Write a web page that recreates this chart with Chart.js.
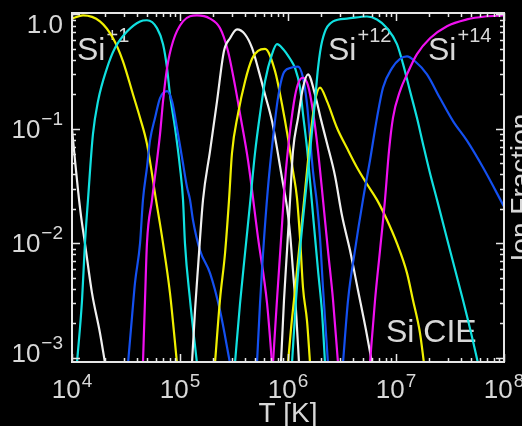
<!DOCTYPE html>
<html><head><meta charset="utf-8">
<style>html,body{margin:0;padding:0;background:#000;overflow:hidden}canvas{display:block}</style>
</head><body>
<canvas id="c" width="522" height="426"></canvas>
<script src="https://cdn.jsdelivr.net/npm/chart.js@4/dist/chart.umd.min.js"></script>
<script>
// ---- data: Si ionization fractions in CIE (log10 T [K], ion fraction) ----
const ionNames = ['Si+0','Si+1','Si+2','Si+3','Si+4','Si+5','Si+6','Si+7','Si+8','Si+9','Si+10','Si+11','Si+12','Si+13','Si+14'];

const logT_si0  = [4.000, 4.028, 4.056, 4.083, 4.120, 4.185, 4.259, 4.306];
const frac_si0  = [0.100, 0.053, 0.029, 0.0175, 0.0100, 0.0037, 0.00165, 0.0009];

const logT_si1  = [4.000, 4.102, 4.259, 4.380, 4.472, 4.565, 4.630, 4.694, 4.778, 4.843, 4.907, 4.972];
const frac_si1  = [0.92, 0.98, 0.87, 0.62, 0.39, 0.20, 0.125, 0.074, 0.024, 0.0100, 0.0037, 0.0009];

const logT_si2  = [4.046, 4.093, 4.120, 4.148, 4.194, 4.241, 4.324, 4.398, 4.509, 4.630, 4.694, 4.787, 4.843, 4.880, 4.907, 4.954, 5.000, 5.028, 5.046, 5.093, 5.157];
const frac_si2  = [0.0009, 0.0032, 0.0100, 0.024, 0.090, 0.175, 0.34, 0.51, 0.71, 0.87, 0.89, 0.76, 0.55, 0.34, 0.20, 0.102, 0.046, 0.024, 0.0100, 0.0032, 0.0009];

const logT_si3  = [4.519, 4.556, 4.583, 4.630, 4.657, 4.694, 4.722, 4.769, 4.815, 4.880, 4.926, 4.972, 5.019, 5.065, 5.093, 5.120, 5.185, 5.278, 5.370, 5.463];
const frac_si3  = [0.0009, 0.0023, 0.0045, 0.0100, 0.024, 0.046, 0.079, 0.125, 0.186, 0.214, 0.175, 0.102, 0.056, 0.031, 0.024, 0.016, 0.0087, 0.0055, 0.0026, 0.0009];

const logT_si4  = [4.657, 4.676, 4.694, 4.741, 4.815, 4.843, 4.880, 4.935, 5.028, 5.157, 5.278, 5.370, 5.444, 5.509, 5.556, 5.630, 5.722, 5.806, 5.852];
const frac_si4  = [0.0009, 0.0032, 0.0100, 0.024, 0.090, 0.175, 0.34, 0.58, 0.87, 0.98, 0.92, 0.76, 0.48, 0.24, 0.135, 0.053, 0.0113, 0.0030, 0.0009];

const logT_si5  = [5.111, 5.139, 5.167, 5.213, 5.278, 5.343, 5.407, 5.463, 5.528, 5.602, 5.667, 5.722, 5.787, 5.852, 5.898, 5.944, 5.991, 6.019, 6.046, 6.074, 6.102];
const frac_si5  = [0.0009, 0.0026, 0.0062, 0.024, 0.064, 0.175, 0.48, 0.62, 0.74, 0.67, 0.51, 0.34, 0.20, 0.117, 0.068, 0.0375, 0.0206, 0.0122, 0.0058, 0.0026, 0.0009];

const logT_si6  = [5.324, 5.370, 5.417, 5.454, 5.481, 5.537, 5.602, 5.667, 5.722, 5.787, 5.880, 5.944, 6.000, 6.046, 6.083, 6.111, 6.139, 6.176, 6.204];
const frac_si6  = [0.0009, 0.0032, 0.0082, 0.024, 0.061, 0.135, 0.26, 0.41, 0.48, 0.50, 0.32, 0.165, 0.083, 0.043, 0.025, 0.0113, 0.0041, 0.0021, 0.0009];

const logT_si7  = [5.509, 5.556, 5.602, 5.648, 5.694, 5.741, 5.787, 5.852, 5.898, 5.954, 6.019, 6.065, 6.111, 6.139, 6.176, 6.204, 6.231, 6.278, 6.315, 6.343];
const frac_si7  = [0.0009, 0.0030, 0.0082, 0.022, 0.061, 0.135, 0.26, 0.45, 0.55, 0.50, 0.41, 0.34, 0.23, 0.135, 0.068, 0.035, 0.018, 0.0058, 0.0025, 0.0009];

const logT_si8  = [5.713, 5.741, 5.769, 5.815, 5.861, 5.907, 5.954, 6.019, 6.093, 6.139, 6.176, 6.204, 6.231, 6.269, 6.296, 6.324, 6.370];
const frac_si8  = [0.0009, 0.0030, 0.0082, 0.031, 0.083, 0.186, 0.30, 0.34, 0.35, 0.28, 0.165, 0.083, 0.043, 0.022, 0.0113, 0.0041, 0.0009];

const logT_si9  = [5.861, 5.898, 5.935, 5.972, 6.019, 6.065, 6.102, 6.139, 6.185, 6.231, 6.278, 6.324, 6.370, 6.417, 6.463];
const frac_si9  = [0.0009, 0.0032, 0.0106, 0.035, 0.096, 0.194, 0.26, 0.28, 0.24, 0.143, 0.064, 0.024, 0.0087, 0.0032, 0.0009];

const logT_si10 = [5.935, 5.963, 5.991, 6.019, 6.046, 6.093, 6.139, 6.185, 6.250, 6.306, 6.361, 6.435, 6.500, 6.574, 6.648, 6.722, 6.778];
const frac_si10 = [0.0009, 0.0032, 0.0087, 0.024, 0.064, 0.125, 0.23, 0.30, 0.20, 0.12, 0.075, 0.039, 0.0175, 0.0087, 0.0039, 0.00175, 0.0009];

const logT_si11 = [6.000, 6.028, 6.065, 6.102, 6.139, 6.176, 6.213, 6.250, 6.296, 6.361, 6.454, 6.546, 6.639, 6.731, 6.824, 6.917, 7.009, 7.102, 7.157, 7.222, 7.259];
const frac_si11 = [0.0009, 0.0018, 0.0039, 0.0087, 0.019, 0.043, 0.096, 0.175, 0.23, 0.175, 0.102, 0.068, 0.046, 0.033, 0.024, 0.016, 0.0100, 0.0055, 0.0032, 0.00165, 0.0009];

const logT_si12 = [6.037, 6.074, 6.111, 6.157, 6.204, 6.250, 6.278, 6.315, 6.417, 6.546, 6.731, 6.824, 6.917, 7.009, 7.065, 7.130, 7.194, 7.250, 7.315, 7.380, 7.500, 7.620, 7.713, 7.759];
const frac_si12 = [0.0009, 0.0032, 0.0087, 0.024, 0.064, 0.175, 0.34, 0.58, 0.87, 0.92, 0.96, 0.905, 0.76, 0.55, 0.37, 0.214, 0.125, 0.074, 0.041, 0.024, 0.0087, 0.0032, 0.0014, 0.0009];

const logT_si13 = [6.509, 6.556, 6.620, 6.694, 6.759, 6.824, 6.880, 6.963, 7.037, 7.102, 7.176, 7.287, 7.407, 7.528, 7.657, 7.806, 8.000];
const frac_si13 = [0.0009, 0.0032, 0.0087, 0.024, 0.053, 0.125, 0.23, 0.34, 0.41, 0.43, 0.39, 0.30, 0.186, 0.117, 0.079, 0.046, 0.021];

const logT_si14 = [6.759, 6.806, 6.852, 6.898, 6.935, 6.972, 7.037, 7.102, 7.194, 7.315, 7.472, 7.657, 7.824, 8.000];
const frac_si14 = [0.0009, 0.0032, 0.0087, 0.024, 0.064, 0.125, 0.214, 0.30, 0.45, 0.62, 0.79, 0.905, 0.96, 0.98];

// axis tick labels
const xTickValues = [1e4, 1e5, 1e6, 1e7, 1e8];
const xTickBase   = ['10', '10', '10', '10', '10'];
const xTickExp    = ['4', '5', '6', '7', '8'];
const yTickValues = [1, 0.1, 0.01, 0.001];
const yTickBase   = ['1.0', '10', '10', '10'];
const yTickExp    = ['', '\u22121', '\u22122', '\u22123'];
const xTitle = 'T [K]';
const yTitle = 'Ion Fraction';
const annBase = ['Si', 'Si', 'Si', 'Si CIE'];
const annExp  = ['+1', '+12', '+14', ''];

// ---- styling ----
const palette = ['#f0f0f0', '#f0f000', '#10e0e0', '#1450f0', '#f010f0'];
const FONT = '"Liberation Sans", Arial, Helvetica, sans-serif';
const TEXT = '#d8d8d8';
const FRAME = '#e6e6e6';

const logTs = [logT_si0, logT_si1, logT_si2, logT_si3, logT_si4, logT_si5, logT_si6, logT_si7, logT_si8, logT_si9, logT_si10, logT_si11, logT_si12, logT_si13, logT_si14];
const fracs = [frac_si0, frac_si1, frac_si2, frac_si3, frac_si4, frac_si5, frac_si6, frac_si7, frac_si8, frac_si9, frac_si10, frac_si11, frac_si12, frac_si13, frac_si14];

const datasets = ionNames.map((name, i) => ({
  label: name,
  data: logTs[i].map((lt, k) => ({ x: Math.pow(10, lt), y: fracs[i][k] })),
  borderColor: palette[i % palette.length],
  borderWidth: 2.2,
  pointRadius: 0,
  fill: false,
  cubicInterpolationMode: 'monotone',
  order: ionNames.length - i
}));

function drawSup(ctx, base, sup, x, y, bf, sf, rise, align) {
  ctx.font = bf; const w1 = ctx.measureText(base).width;
  ctx.font = sf; const w2 = sup ? ctx.measureText(sup).width : 0;
  const gap = sup ? 1 : 0;
  const tot = w1 + gap + w2;
  let x0 = x;
  if (align === 'center') x0 = x - tot / 2;
  else if (align === 'right') x0 = x - tot;
  ctx.textAlign = 'left'; ctx.textBaseline = 'alphabetic';
  ctx.font = bf; ctx.fillText(base, x0, y);
  if (sup) { ctx.font = sf; ctx.fillText(sup, x0 + w1 + gap, y - rise); }
}

const bgPlugin = {
  id: 'bg',
  beforeDraw(chart) {
    const ctx = chart.ctx; ctx.save(); ctx.fillStyle = '#000';
    ctx.fillRect(0, 0, chart.width, chart.height); ctx.restore();
  },
  beforeDatasetsDraw(chart) {
    const ctx = chart.ctx, a = chart.chartArea;
    ctx.save(); ctx.fillStyle = TEXT;
    const bf = '32px ' + FONT, sf = '20px ' + FONT;
    const pos = [[a.left + 5, a.top + 47], [a.left + 256, a.top + 47], [a.left + 356, a.top + 47], [a.left + 314, a.top + 329]];
    annBase.forEach((t, i) => drawSup(ctx, t, annExp[i], pos[i][0], pos[i][1], bf, sf, 18, 'left'));
    ctx.restore();
  },
  afterDatasetsDraw(chart) {
    const ctx = chart.ctx, a = chart.chartArea, xs = chart.scales.x, ys = chart.scales.y;
    ctx.save();
    ctx.strokeStyle = FRAME; ctx.lineWidth = 2;
    ctx.strokeRect(a.left, a.top, a.right - a.left, a.bottom - a.top);
    ctx.lineWidth = 1.5;
    ctx.beginPath();
    for (let n = 4; n <= 8; n++) {
      for (let m = 1; m <= 9; m++) {
        const v = m * Math.pow(10, n);
        if (v > xs.max * 1.0001) break;
        const px = Math.round(xs.getPixelForValue(v)) + 0.5;
        const len = m === 1 ? 8 : 4;
        ctx.moveTo(px, a.bottom); ctx.lineTo(px, a.bottom - len);
        ctx.moveTo(px, a.top); ctx.lineTo(px, a.top + len);
      }
    }
    for (let n = -4; n <= 0; n++) {
      for (let m = 1; m <= 9; m++) {
        const v = m * Math.pow(10, n);
        if (v < ys.min || v > ys.max) continue;
        const py = Math.round(ys.getPixelForValue(v)) + 0.5;
        const len = m === 1 ? 8 : 4;
        ctx.moveTo(a.left, py); ctx.lineTo(a.left + len, py);
        ctx.moveTo(a.right, py); ctx.lineTo(a.right - len, py);
      }
    }
    ctx.stroke();
    ctx.restore();
  },
  afterDraw(chart) {
    const ctx = chart.ctx, a = chart.chartArea, xs = chart.scales.x, ys = chart.scales.y;
    ctx.save(); ctx.fillStyle = TEXT;
    const bf = '26px ' + FONT, sf = '19px ' + FONT;
    xTickValues.forEach((v, i) => {
      const px = xs.getPixelForValue(v);
      drawSup(ctx, xTickBase[i], xTickExp[i], px, a.bottom + 36, bf, sf, 11, 'center');
    });
    yTickValues.forEach((v, i) => {
      const py = ys.getPixelForValue(v);
      const base = Math.min(Math.max(py + 9, a.top + 20), a.bottom);
      drawSup(ctx, yTickBase[i], yTickExp[i], a.left - 9, base, bf, sf, 13, 'right');
    });
    ctx.font = '28px ' + FONT; ctx.textAlign = 'center'; ctx.textBaseline = 'alphabetic';
    ctx.fillText(xTitle, (a.left + a.right) / 2, a.bottom + 60);
    ctx.translate(a.right + 26, (a.top + a.bottom) / 2);
    ctx.rotate(-Math.PI / 2);
    ctx.fillText(yTitle, 0, 0);
    ctx.restore();
  }
};

new Chart(document.getElementById('c'), {
  type: 'line',
  data: { datasets },
  options: {
    responsive: false,
    devicePixelRatio: 1,
    animation: false,
    layout: { padding: { left: 72, top: 13, right: 18, bottom: 64 } },
    plugins: { legend: { display: false }, tooltip: { enabled: false } },
    scales: {
      x: { type: 'logarithmic', min: 1e4, max: 1e8, display: false },
      y: { type: 'logarithmic', min: 9.2e-4, max: 1.03, display: false }
    }
  },
  plugins: [bgPlugin]
});
</script>
</body></html>
